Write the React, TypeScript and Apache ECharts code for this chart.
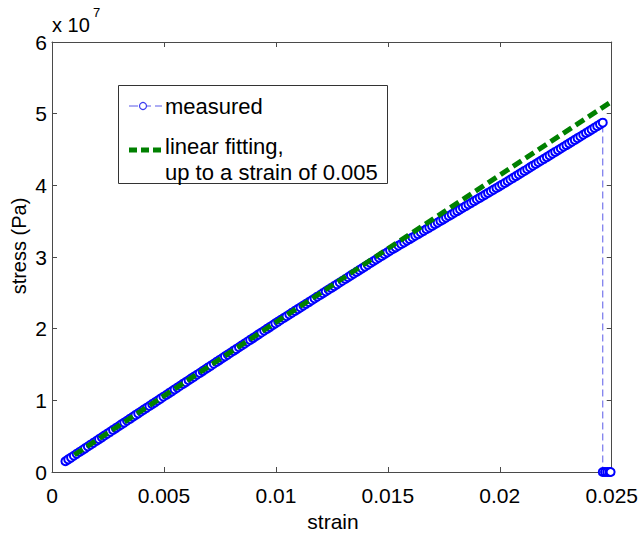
import React, { useEffect, useRef } from "react";
import * as echarts from "echarts";

// measured strain (-) and stress (x 1e7 Pa)
const strain = [
  0.0006, 0.000725, 0.00085, 0.000975, 0.0011, 0.001225, 0.00135, 0.001475, 0.0016, 0.001725,
  0.00185, 0.001975, 0.0021, 0.002225, 0.00235, 0.002475, 0.0026, 0.002725, 0.00285, 0.002975,
  0.0031, 0.003225, 0.00335, 0.003475, 0.0036, 0.003725, 0.00385, 0.003975, 0.0041, 0.004225,
  0.00435, 0.004475, 0.0046, 0.004725, 0.00485, 0.004975, 0.0051, 0.005225, 0.00535, 0.005475,
  0.0056, 0.005725, 0.00585, 0.005975, 0.0061, 0.006225, 0.00635, 0.006475, 0.0066, 0.006725,
  0.00685, 0.006975, 0.0071, 0.007225, 0.00735, 0.007475, 0.0076, 0.007725, 0.00785, 0.007975,
  0.0081, 0.008225, 0.00835, 0.008475, 0.0086, 0.008725, 0.00885, 0.008975, 0.0091, 0.009225,
  0.00935, 0.009475, 0.0096, 0.009725, 0.00985, 0.009975, 0.0101, 0.010225, 0.01035, 0.010475,
  0.0106, 0.010725, 0.01085, 0.010975, 0.0111, 0.011225, 0.01135, 0.011475, 0.0116, 0.011725,
  0.01185, 0.011975, 0.0121, 0.012225, 0.01235, 0.012475, 0.0126, 0.012725, 0.01285, 0.012975,
  0.0131, 0.013225, 0.01335, 0.013475, 0.0136, 0.013725, 0.01385, 0.013975, 0.0141, 0.014225,
  0.01435, 0.014475, 0.0146, 0.014725, 0.01485, 0.014975, 0.0151, 0.015225, 0.01535, 0.015475,
  0.0156, 0.015725, 0.01585, 0.015975, 0.0161, 0.016225, 0.01635, 0.016475, 0.0166, 0.016725,
  0.01685, 0.016975, 0.0171, 0.017225, 0.01735, 0.017475, 0.0176, 0.017725, 0.01785, 0.017975,
  0.0181, 0.018225, 0.01835, 0.018475, 0.0186, 0.018725, 0.01885, 0.018975, 0.0191, 0.019225,
  0.01935, 0.019475, 0.0196, 0.019725, 0.01985, 0.019975, 0.0201, 0.020225, 0.02035, 0.020475,
  0.0206, 0.020725, 0.02085, 0.020975, 0.0211, 0.021225, 0.02135, 0.021475, 0.0216, 0.021725,
  0.02185, 0.021975, 0.0221, 0.022225, 0.02235, 0.022475, 0.0226, 0.022725, 0.02285, 0.022975,
  0.0231, 0.023225, 0.02335, 0.023475, 0.0236, 0.023725, 0.02385, 0.023975, 0.0241, 0.024225,
  0.02435, 0.024475, 0.0246,
];
const stressE7 = [
  0.15, 0.176, 0.201, 0.227, 0.253, 0.279, 0.304, 0.33, 0.356, 0.381,
  0.407, 0.433, 0.458, 0.484, 0.51, 0.536, 0.561, 0.587, 0.613, 0.638,
  0.664, 0.69, 0.715, 0.741, 0.767, 0.793, 0.818, 0.844, 0.87, 0.895,
  0.921, 0.947, 0.972, 0.998, 1.024, 1.05, 1.075, 1.101, 1.126, 1.152,
  1.178, 1.203, 1.229, 1.254, 1.28, 1.306, 1.331, 1.357, 1.382, 1.408,
  1.434, 1.459, 1.485, 1.51, 1.536, 1.562, 1.587, 1.613, 1.638, 1.664,
  1.69, 1.715, 1.741, 1.766, 1.792, 1.818, 1.843, 1.869, 1.894, 1.92,
  1.946, 1.971, 1.997, 2.022, 2.048, 2.074, 2.099, 2.124, 2.149, 2.173,
  2.198, 2.223, 2.248, 2.272, 2.297, 2.322, 2.347, 2.371, 2.396, 2.421,
  2.446, 2.47, 2.495, 2.52, 2.545, 2.569, 2.594, 2.619, 2.644, 2.668,
  2.693, 2.718, 2.743, 2.767, 2.792, 2.817, 2.842, 2.866, 2.891, 2.916,
  2.941, 2.965, 2.99, 3.015, 3.04, 3.064, 3.089, 3.112, 3.135, 3.158,
  3.181, 3.204, 3.227, 3.25, 3.273, 3.296, 3.319, 3.342, 3.365, 3.388,
  3.411, 3.434, 3.457, 3.48, 3.503, 3.526, 3.549, 3.572, 3.595, 3.618,
  3.641, 3.664, 3.687, 3.71, 3.733, 3.756, 3.779, 3.802, 3.825, 3.848,
  3.871, 3.894, 3.917, 3.94, 3.963, 3.986, 4.009, 4.033, 4.057, 4.081,
  4.105, 4.129, 4.153, 4.177, 4.201, 4.225, 4.25, 4.274, 4.298, 4.322,
  4.346, 4.37, 4.394, 4.418, 4.442, 4.466, 4.49, 4.514, 4.538, 4.562,
  4.586, 4.61, 4.634, 4.658, 4.682, 4.706, 4.73, 4.754, 4.778, 4.802,
  4.826, 4.851, 4.874,
];
// after fracture
const breakStrain = [0.0246, 0.0247, 0.0248, 0.0249, 0.02495];
const breakStressE7 = [0, 0, 0, 0, 0];

// linear fitting (up to a strain of 0.005)
const fitStrain = [0.001, 0.025];
const fitStressE7 = [0.24, 5.17];

const xTickLabels = ["0", "0.005", "0.01", "0.015", "0.02", "0.025"];
const yTickLabels = ["0", "1", "2", "3", "4", "5", "6"];

const FONT = "'Liberation Sans', Arial, Helvetica, sans-serif";
const AXIS_COLOR = "#4a4a4a";

export default function App() {
  const ref = useRef<HTMLDivElement>(null);

  useEffect(() => {
    if (!ref.current) return;
    const chart = echarts.init(ref.current, null, { renderer: "svg" });

    const measured: number[][] = strain.map((s, i) => [s, stressE7[i]]);
    breakStrain.forEach((s, i) => measured.push([s, breakStressE7[i]]));
    const fit = fitStrain.map((s, i) => [s, fitStressE7[i]]);

    const tickCommon = {
      show: true,
      inside: true,
      length: 5,
      lineStyle: { color: AXIS_COLOR, width: 1 },
    };
    const lineCommon = {
      show: true,
      onZero: false,
      lineStyle: { color: AXIS_COLOR, width: 1 },
    };

    chart.setOption({
      animation: false,
      backgroundColor: "#ffffff",
      grid: { left: 52, right: 28, top: 42, bottom: 62, containLabel: false },
      xAxis: [
        {
          type: "value",
          position: "bottom",
          min: 0,
          max: 0.025,
          interval: 0.005,
          axisLine: lineCommon,
          axisTick: tickCommon,
          splitLine: { show: false },
          axisLabel: {
            margin: 13,
            fontSize: 21,
            color: "#000",
            fontFamily: FONT,
            formatter: (v: number) => xTickLabels[Math.round(v / 0.005)] ?? "",
          },
        },
        {
          type: "value",
          position: "top",
          min: 0,
          max: 0.025,
          interval: 0.005,
          axisLine: lineCommon,
          axisTick: tickCommon,
          splitLine: { show: false },
          axisLabel: { show: false },
        },
      ],
      yAxis: [
        {
          type: "value",
          position: "left",
          min: 0,
          max: 6,
          interval: 1,
          axisLine: lineCommon,
          axisTick: tickCommon,
          splitLine: { show: false },
          axisLabel: {
            margin: 5,
            fontSize: 21,
            color: "#000",
            fontFamily: FONT,
            formatter: (v: number) => yTickLabels[Math.round(v)] ?? "",
          },
        },
        {
          type: "value",
          position: "right",
          min: 0,
          max: 6,
          interval: 1,
          axisLine: lineCommon,
          axisTick: tickCommon,
          splitLine: { show: false },
          axisLabel: { show: false },
        },
      ],
      series: [
        {
          name: "measured",
          type: "line",
          xAxisIndex: 0,
          yAxisIndex: 0,
          data: measured,
          showAllSymbol: true,
          symbol: "emptyCircle",
          symbolSize: 8,
          itemStyle: { color: "#0000ff", borderColor: "#0000ff", borderWidth: 3 },
          lineStyle: { color: "#5a5ae8", width: 1, type: [7, 4] },
          clip: false,
          z: 2,
        },
        {
          name: "linear fitting, up to a strain of 0.005",
          type: "line",
          xAxisIndex: 0,
          yAxisIndex: 0,
          data: fit,
          symbol: "none",
          lineStyle: { color: "#008000", width: 5, type: [10, 5] },
          z: 3,
        },
      ],
      graphic: [
        {
          type: "text",
          left: 52,
          top: 15,
          style: { text: "x 10", fontSize: 20, fontFamily: FONT, fill: "#000" },
        },
        {
          type: "text",
          left: 93,
          top: 6,
          style: { text: "7", fontSize: 13, fontFamily: FONT, fill: "#000" },
        },
        {
          type: "text",
          x: 333,
          y: 521,
          style: {
            text: "strain",
            fontSize: 21,
            fontFamily: FONT,
            fill: "#000",
            align: "center",
            verticalAlign: "middle",
          },
        },
        {
          type: "text",
          x: 19,
          y: 246,
          rotation: Math.PI / 2,
          style: {
            text: "stress (Pa)",
            fontSize: 20,
            fontFamily: FONT,
            fill: "#000",
            align: "center",
            verticalAlign: "middle",
          },
        },
        // legend
        {
          type: "rect",
          shape: { x: 118.5, y: 85.5, width: 269, height: 98 },
          style: { fill: "#ffffff", stroke: "#333333", lineWidth: 1 },
          z: 10,
        },
        {
          type: "line",
          shape: { x1: 129, y1: 106, x2: 162, y2: 106 },
          style: { stroke: "#5a5ae8", lineWidth: 1, lineDash: [9, 4] },
          z: 11,
        },
        {
          type: "circle",
          shape: { cx: 143, cy: 106, r: 3.5 },
          style: { fill: "#ffffff", stroke: "#3b3bf0", lineWidth: 1.2 },
          z: 12,
        },
        {
          type: "line",
          shape: { x1: 129, y1: 150, x2: 162, y2: 150 },
          style: { stroke: "#008000", lineWidth: 5, lineDash: [8, 4] },
          z: 11,
        },
        {
          type: "text",
          x: 165,
          y: 106,
          style: {
            text: "measured",
            fontSize: 22,
            fontFamily: FONT,
            fill: "#000",
            verticalAlign: "middle",
          },
          z: 12,
        },
        {
          type: "text",
          x: 165,
          y: 146,
          style: {
            text: "linear fitting,",
            fontSize: 22,
            fontFamily: FONT,
            fill: "#000",
            verticalAlign: "middle",
          },
          z: 12,
        },
        {
          type: "text",
          x: 165,
          y: 172,
          style: {
            text: "up to a strain of 0.005",
            fontSize: 22,
            fontFamily: FONT,
            fill: "#000",
            verticalAlign: "middle",
          },
          z: 12,
        },
      ],
    });

    return () => chart.dispose();
  }, []);

  return (
    <div
      ref={ref}
      style={{ position: "fixed", left: 0, top: 0, width: 641, height: 534, background: "#fff" }}
    />
  );
}
